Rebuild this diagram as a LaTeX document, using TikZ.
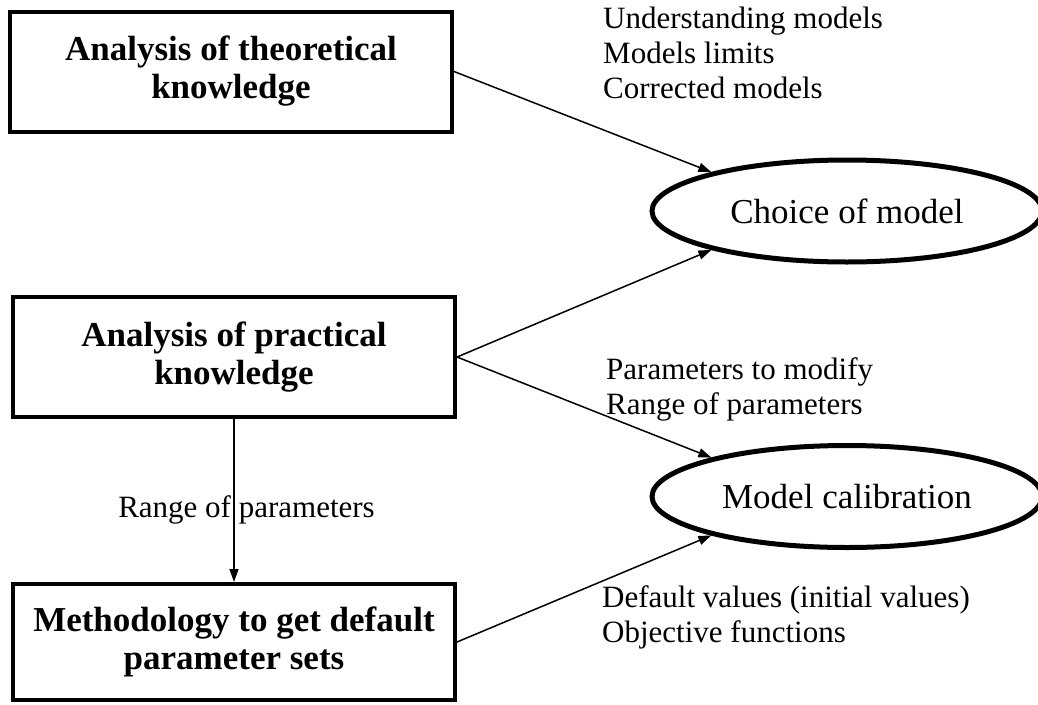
\documentclass[tikz,border=0pt]{standalone}
\usepackage{fontspec}
\setmainfont{Liberation Serif}
\usepackage{tikz}
\usetikzlibrary{arrows.meta}
\usetikzlibrary{shapes.geometric}

\begin{document}
\begin{tikzpicture}[x=1pt,y=-1pt,
box/.style={draw,line width=4pt,minimum width=442pt,minimum height=120pt,inner sep=0pt,align=center,font=\fontsize{35}{38}\selectfont\bfseries},
oval/.style={draw,ellipse,line width=5pt,minimum width=390pt,minimum height=102pt,inner sep=0pt,font=\fontsize{35}{38}\selectfont},
txt/.style={inner sep=0pt,align=left,font=\fontsize{31}{35}\selectfont},
arr/.style={line width=1.5pt,-{Triangle[length=13pt,width=9pt]}}]
\useasboundingbox(0,0)rectangle(1038,704);

\node[box](teo)at(231,71.5){Analysis of theoretical\\knowledge};
\node[box](prac)at(234,357){Analysis of practical\\knowledge};
\node[box,minimum height=116pt](meth)at(234,642){Methodology to get default\\parameter sets};

\node[oval](choice)at(847,211){Choice of model};
\node[oval](calib)at(847,496.5){Model calibration};

\node[txt,anchor=north west](why)at(603,7){Understanding models\\Models limits\\Corrected models};
\node[txt,anchor=north west](what)at(606,357){Parameters to modify\\Range of parameters};
\node[txt,anchor=north west](init)at(602,585.5){Default values (initial values)\\Objective functions};

\draw[arr](teo.east)--(choice.164);
\draw[arr](prac.east)--(choice.196);
\draw[arr](prac.east)--(calib.164);
\draw[arr](meth.east)--(calib.196);
\draw[arr](prac.south)--node[txt,midway,anchor=base,xshift=12.5pt,yshift=-16.5pt]{Range of parameters}(meth.north);

\end{tikzpicture}
\end{document}
